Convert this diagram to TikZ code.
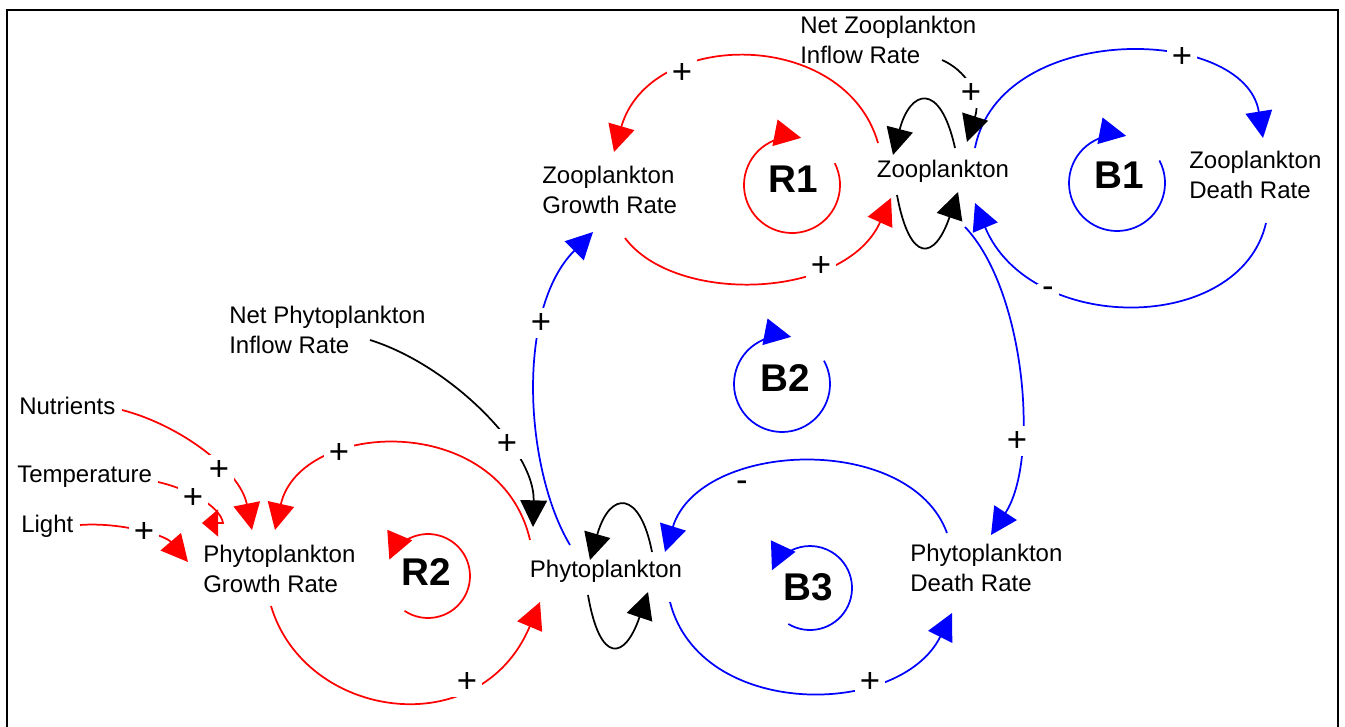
\documentclass[tikz,border=0pt]{standalone}
\usepackage{fontspec}
\setmainfont{Liberation Sans}
\usetikzlibrary{arrows.meta}
\definecolor{cldred}{RGB}{255,0,0}
\definecolor{cldblue}{RGB}{0,0,255}

\begin{document}
\begin{tikzpicture}[x=0.75pt,y=-0.75pt,
  var/.style={inner sep=0pt, font=\fontsize{18pt}{22.5pt}\selectfont, align=left},
  looplabel/.style={inner sep=0pt, font=\fontsize{29pt}{29pt}\selectfont\bfseries},
  link/.style={line width=1.3pt, -{Triangle[length=20pt,width=20pt]}},
  redlink/.style={link, draw=cldred},
  bluelink/.style={link, draw=cldblue},
  blacklink/.style={link, draw=black},
  sgn/.style={fill=white, inner sep=4pt, font=\fontsize{26pt}{26pt}\selectfont},
  sgnminus/.style={sgn, minimum width=16pt, minimum height=12pt, inner sep=0pt},
]
\useasboundingbox (0,0) rectangle (1345,727);

% frame
\draw[line width=2pt] (7,740) -- (7,10) -- (1338,10) -- (1338,740);

% variables (two-line names are placed by the baseline of their last line)
\node[var, anchor=base west] (netzoo) at (800,64) {Net Zooplankton\\Inflow Rate};
\node[var, anchor=base] (zoo) at (943,178) {Zooplankton};
\node[var, anchor=base west] (zgr) at (542,214) {Zooplankton\\Growth Rate};
\node[var, anchor=base west] (zdr) at (1189,199) {Zooplankton\\Death Rate};
\node[var, anchor=base west] (netphy) at (229,353) {Net Phytoplankton\\Inflow Rate};
\node[var, anchor=base west] (nut) at (19,414) {Nutrients};
\node[var, anchor=base west] (temp) at (17,482) {Temperature};
\node[var, anchor=base west] (light) at (21,532) {Light};
\node[var, anchor=base west] (pgr) at (203,592) {Phytoplankton\\Growth Rate};
\node[var, anchor=base] (phy) at (606,577) {Phytoplankton};
\node[var, anchor=base west] (pdr) at (910,591) {Phytoplankton\\Death Rate};

% loop identifiers
\node[looplabel, anchor=base] (R1) at (793,193) {R1};
\node[looplabel, anchor=base] (R2) at (426,585) {R2};
\node[looplabel, anchor=base] (B1) at (1119,189) {B1};
\node[looplabel, anchor=base] (B2) at (785,391) {B2};
\node[looplabel, anchor=base] (B3) at (808,600) {B3};

% connector end points
\coordinate (zooTL) at (878,143);
\coordinate (zgrTop) at (614,152);
\coordinate (zgrBot) at (625,238);
\coordinate (zooBL) at (891,198);
\coordinate (phyTL) at (530,540);
\coordinate (pgrTop) at (275,530);
\coordinate (pgrBot) at (271,606);
\coordinate (phyBL) at (540,602);
\coordinate (zooTR) at (975,148);
\coordinate (zdrTop) at (1263,138);
\coordinate (zdrBot) at (1266,223);
\coordinate (zooBR) at (975,203);
\coordinate (phyUp) at (570,545);
\coordinate (zgrBL) at (593,232);
\coordinate (zooDown) at (965,227);
\coordinate (pdrTop) at (991,535);
\coordinate (phyBR) at (670,602);
\coordinate (pdrBL) at (952,613);
\coordinate (pdrTL) at (947,533);
\coordinate (phyTR) at (665,552);
\coordinate (netphyOut) at (370,340);
\coordinate (phyIn) at (533,527);
\coordinate (netzooOut) at (942,60);
\coordinate (zooIn) at (967,142);
\coordinate (nutOut) at (122,410);
\coordinate (pgrIn1) at (252,530);
\coordinate (tempOut) at (158,482);
\coordinate (tempBend) at (223,523);
\coordinate (pgrIn2) at (202,523);
\coordinate (lightOut) at (80,525);
\coordinate (pgrIn3) at (188,562);

% R1: zooplankton growth
\draw[redlink] (zooTL) .. controls (845,28) and (650,28) .. (zgrTop);
\draw[redlink] (zgrBot) .. controls (675,305) and (845,300) .. (zooBL);
% R2: phytoplankton growth
\draw[redlink] (phyTL) .. controls (500,410) and (300,420) .. (pgrTop);
\draw[redlink] (pgrBot) .. controls (305,720) and (480,745) .. (phyBL);
% B1: zooplankton death
\draw[bluelink] (zooTR) .. controls (1000,20) and (1245,25) .. (zdrTop);
\draw[bluelink] (zdrBot) .. controls (1240,335) and (1030,335) .. (zooBR);
% B2: grazing
\draw[bluelink] (phyUp) .. controls (525,470) and (515,310) .. (zgrBL);
\draw[bluelink] (zooDown) .. controls (1025,290) and (1040,460) .. (pdrTop);
% B3: phytoplankton death
\draw[bluelink] (phyBR) .. controls (700,720) and (900,718) .. (pdrBL);
\draw[bluelink] (pdrTL) .. controls (910,432) and (700,440) .. (phyTR);

% net inflows
\draw[blacklink] (netphyOut) .. controls (450,365) and (535,450) .. (phyIn);
\draw[blacklink] (netzooOut) .. controls (965,70) and (982,95) .. (zooIn);

% stock self-links
\draw[blacklink] (955,148) .. controls (940,80) and (910,90) .. (893,155);
\draw[blacklink] (897,195) .. controls (910,265) and (935,260) .. (958,192);
\draw[blacklink] (652,552) .. controls (640,490) and (610,490) .. (590,560);
\draw[blacklink] (588,595) .. controls (600,665) and (625,660) .. (648,592);

% external inputs
\draw[redlink] (nutOut) .. controls (180,425) and (240,470) .. (pgrIn1);
\draw[line width=1.3pt, draw=cldred, -{Triangle[length=12pt,width=20pt]}]
  (tempOut) .. controls (185,488) and (220,505) .. (tempBend) -- (pgrIn2);
\draw[redlink] (lightOut) .. controls (120,522) and (165,535) .. (pgrIn3);

% loop direction markers
\coordinate (r1c) at (792,185);
\coordinate (r2c) at (428,576);
\coordinate (b1c) at (1117,183);
\coordinate (b2c) at (782,384);
\coordinate (b3c) at (810,588);
\draw[redlink] (r1c) ++(-27:48) arc[start angle=-27, end angle=281, radius=48];
\draw[redlink] (r2c) ++(124:42) arc[start angle=124, end angle=-157, radius=42];
\draw[bluelink] (b1c) ++(-28:48) arc[start angle=-28, end angle=281, radius=48];
\draw[bluelink] (b2c) ++(-29:48) arc[start angle=-29, end angle=281, radius=48];
\draw[bluelink] (b3c) ++(121:42) arc[start angle=121, end angle=-155, radius=42];

% polarity signs
\node[sgn] (s1) at (682,73) {+};
\node[sgn] (s2) at (821,266) {+};
\node[sgn] (s3) at (339,453) {+};
\node[sgn] (s4) at (467,682) {+};
\node[sgn] (s5) at (1182,57) {+};
\node[sgnminus] (s6) at (1048,292) {-};
\node[sgn] (s7) at (541,323) {+};
\node[sgn] (s8) at (1017,441) {+};
\node[sgn] (s9) at (870,682) {+};
\node[sgnminus] (s10) at (742,486) {-};
\node[sgn] (s11) at (507,444) {+};
\node[sgn] (s12) at (971,93) {+};
\node[sgn] (s13) at (219,470) {+};
\node[sgn] (s14) at (193,498) {+};
\node[sgn] (s15) at (144,532) {+};
\end{tikzpicture}
\end{document}
